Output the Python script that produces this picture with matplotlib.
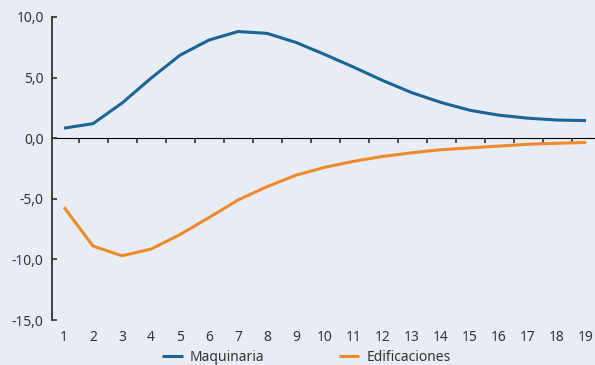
import matplotlib
matplotlib.use("Agg")
import matplotlib.pyplot as plt
from matplotlib.ticker import FixedLocator, NullFormatter

periods = list(range(1, 20))
maquinaria = [0.83, 1.2, 2.9, 4.95, 6.85, 8.1, 8.8, 8.65, 7.9, 6.9, 5.85, 4.75, 3.75, 2.95, 2.3, 1.9, 1.65, 1.5, 1.45]
edificaciones = [-5.7, -8.9, -9.7, -9.15, -7.95, -6.55, -5.1, -4.0, -3.05, -2.4, -1.9, -1.5, -1.2, -0.95, -0.8, -0.65, -0.5, -0.42, -0.35]
series_names = ["Maquinaria", "Edificaciones"]
y_ticks = [10, 5, 0, -5, -10, -15]
y_tick_labels = ["10,0", "5,0", "0,0", "-5,0", "-10,0", "-15,0"]

bg = "#E8EDF5"
blue = "#1B6596"
orange = "#EE8A2A"
txt = "#333333"

plt.rcParams['font.family'] = ['Noto Sans', 'DejaVu Sans']

fig = plt.figure(figsize=(5.95, 3.65), dpi=100, facecolor=bg)
ax = fig.add_axes([52/595, 1 - 320/365, 543/595, 303/365])
ax.set_facecolor(bg)

ax.plot(periods, maquinaria, color=blue, lw=2.2, label=series_names[0], solid_capstyle='butt')
ax.plot(periods, edificaciones, color=orange, lw=2.2, label=series_names[1], solid_capstyle='butt')

ax.set_ylim(-15, 10)
ax.set_xlim(0.586, 19.31)
ax.set_yticks(y_ticks)
ax.set_yticklabels(y_tick_labels)
ax.set_xticks(periods)
ax.set_xticklabels([str(p) for p in periods])

for s in ['top', 'right', 'bottom']:
    ax.spines[s].set_visible(False)
ax.spines['left'].set_color(txt)
ax.spines['left'].set_linewidth(1.3)
ax.tick_params(axis='y', direction='in', length=3.5, width=1.2, color=txt, labelcolor=txt, labelsize=10, pad=6)
ax.tick_params(axis='x', length=0, labelcolor=txt, labelsize=10, pad=7)

zero_pos = (0 - (-15)) / (10 - (-15))
sec = ax.secondary_xaxis(zero_pos)
sec.spines['bottom'].set_color(txt)
sec.spines['bottom'].set_linewidth(1.3)
sec.xaxis.set_major_locator(FixedLocator([p + 0.5 for p in periods[:-1]]))
sec.xaxis.set_major_formatter(NullFormatter())
sec.tick_params(axis='x', direction='in', length=3.5, width=1.2, color=txt)

fig.legend(loc='center', bbox_to_anchor=(0.515, 0.021), ncol=2, frameon=False,
           fontsize=10, labelcolor=txt, handlelength=1.45, handletextpad=0.5,
           columnspacing=5.4)

fig.savefig("out.png", dpi=100, facecolor=bg)
